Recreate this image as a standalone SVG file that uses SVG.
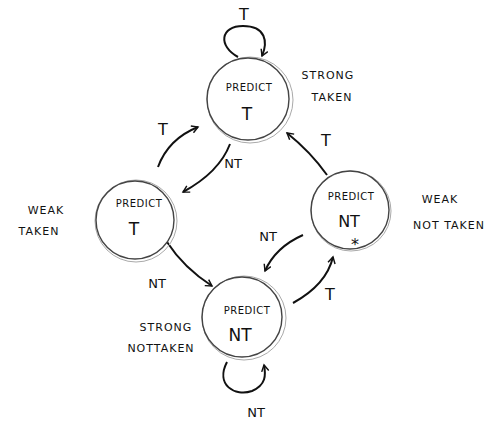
<svg xmlns="http://www.w3.org/2000/svg" width="499" height="422" viewBox="0 0 499 422">
<style>
.node{fill:none;stroke:#444;stroke-width:1.4}
.node2{fill:none;stroke:#aaa;stroke-width:1}
.t{font-family:"DejaVu Sans",sans-serif;fill:#111;text-anchor:middle}
.s{font-size:10px;letter-spacing:0.5px}
.b{font-size:17px}
.lbl{font-size:16px}
.nt{font-size:13px}
.side{font-size:11px;letter-spacing:1px}
.e{fill:none;stroke:#111;stroke-width:2;marker-end:url(#ah)}
</style>
<defs>
<marker id="ah" viewBox="0 0 10 10" refX="8" refY="5" markerWidth="9" markerHeight="9" orient="auto-start-reverse" markerUnits="userSpaceOnUse">
<path d="M1,1 L8,5 L1,9" fill="none" stroke="#111" stroke-width="1.6"/>
</marker>
</defs>
<rect width="499" height="422" fill="#fff"/>
<g id="connectors">
<path class="e" d="M238,57 C218,46 220,26 243,26 C266,26 268,42 262,56"/>
<text class="t lbl" x="244" y="20">T</text>
<path class="e" d="M230,144 C222,165 205,180 183,192"/>
<text class="t nt" x="233" y="168">NT</text>
<path class="e" d="M158,167 C165,148 178,135 198,127"/>
<text class="t lbl" x="163" y="135">T</text>
<path class="e" d="M167,242 C180,262 195,275 212,286"/>
<text class="t nt" x="157" y="288">NT</text>
<path class="e" d="M327,175 C315,158 302,145 287,133"/>
<text class="t lbl" x="326" y="146">T</text>
<path class="e" d="M303,235 C285,243 272,255 265,271"/>
<text class="t nt" x="268" y="241">NT</text>
<path class="e" d="M293,303 C313,292 328,278 333,257"/>
<text class="t lbl" x="330" y="300">T</text>
<path class="e" d="M227,362 C215,385 235,397 252,391 C266,385 266,375 264,365"/>
<text class="t nt" x="256" y="417">NT</text>
</g>
<g id="strong-taken">
<circle class="node2" cx="250" cy="100" r="43"/>
<circle class="node" cx="248" cy="99" r="41"/>
<text class="t s" x="249" y="91">PREDICT</text>
<text class="t b" x="247" y="120">T</text>
</g>
<g id="weak-taken">
<circle class="node2" cx="136" cy="221" r="41"/>
<circle class="node" cx="135" cy="220" r="39"/>
<text class="t s" x="139" y="207">PREDICT</text>
<text class="t b" x="134" y="235">T</text>
</g>
<g id="weak-not-taken">
<circle class="node2" cx="351" cy="211" r="40"/>
<circle class="node" cx="350" cy="210" r="39"/>
<text class="t s" x="351" y="200">PREDICT</text>
<text class="t lbl" x="349" y="227">NT</text>
<text class="t lbl" x="355" y="250">*</text>
</g>
<g id="strong-not-taken">
<circle class="node2" cx="244" cy="318" r="42"/>
<circle class="node" cx="242" cy="317" r="40"/>
<text class="t s" x="247" y="314">PREDICT</text>
<text class="t b" x="240" y="341">NT</text>
</g>
<g id="side-labels">
<text class="t side" x="328" y="79">STRONG</text>
<text class="t side" x="332" y="101">TAKEN</text>
<text class="t side" x="46" y="214">WEAK</text>
<text class="t side" x="39" y="235">TAKEN</text>
<text class="t side" x="440" y="203">WEAK</text>
<text class="t side" x="449" y="229">NOT TAKEN</text>
<text class="t side" x="166" y="331">STRONG</text>
<text class="t side" x="161" y="352">NOTTAKEN</text>
</g>
</svg>
